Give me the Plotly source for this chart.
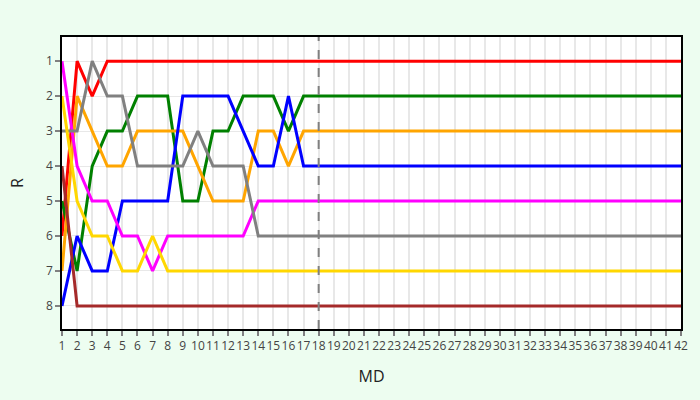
import plotly.graph_objects as go

md = list(range(1, 43))

# rank per matchday for the first 17 days, then flat until 42
red = [6, 1, 2, 1, 1, 1, 1, 1, 1, 1, 1, 1, 1, 1, 1, 1, 1]
green = [5, 7, 4, 3, 3, 2, 2, 2, 5, 5, 3, 3, 2, 2, 2, 3, 2]
orange = [7, 2, 3, 4, 4, 3, 3, 3, 3, 4, 5, 5, 5, 3, 3, 4, 3]
blue = [8, 6, 7, 7, 5, 5, 5, 5, 2, 2, 2, 2, 3, 4, 4, 2, 4]
magenta = [1, 4, 5, 5, 6, 6, 7, 6, 6, 6, 6, 6, 6, 5, 5, 5, 5]
gray = [3, 3, 1, 2, 2, 4, 4, 4, 4, 3, 4, 4, 4, 6, 6, 6, 6]
gold = [2, 5, 6, 6, 7, 7, 6, 7, 7, 7, 7, 7, 7, 7, 7, 7, 7]
brown = [4, 8, 8, 8, 8, 8, 8, 8, 8, 8, 8, 8, 8, 8, 8, 8, 8]

series = [
    ("red", red), ("green", green), ("orange", orange), ("blue", blue),
    ("magenta", magenta), ("gray", gray), ("gold", gold), ("brown", brown),
]

fig = go.Figure()
for color, vals in series:
    full = vals + [vals[-1]] * (len(md) - len(vals))
    fig.add_trace(go.Scatter(x=md, y=full, mode="lines", name=color,
                             line=dict(color=color, width=3)))

fig.add_vline(x=18, line=dict(color="gray", width=2, dash="dash"))

fig.update_layout(
    width=700, height=400,
    paper_bgcolor="#edfdf0", plot_bgcolor="white",
    margin=dict(l=62, r=15, t=37, b=71),
    showlegend=False,
    font=dict(family="Open Sans", color="#444", size=12),
)
fig.update_xaxes(
    title=dict(text="MD", font=dict(size=16, color="#222"), standoff=18),
    range=[1, 42], dtick=1, tick0=1, tickangle=0,
    showgrid=True, gridcolor="#e8e8e8", gridwidth=2,
    showline=True, linecolor="black", linewidth=1.5, mirror=True,
    ticks="outside", tickcolor="gray", ticklen=5, tickwidth=2,
    zeroline=False,
)
fig.update_yaxes(
    title=dict(text="R", font=dict(size=16, color="#222"), standoff=18),
    range=[8.66, 0.31], dtick=1, tick0=1,
    showgrid=True, gridcolor="#e8e8e8", gridwidth=1,
    showline=True, linecolor="black", linewidth=1.5, mirror=True,
    ticks="outside", tickcolor="gray", ticklen=5, tickwidth=2,
    zeroline=False,
)

fig.write_html("out.html", config={"displayModeBar": False},
               post_script="document.body.style.margin='0';")
